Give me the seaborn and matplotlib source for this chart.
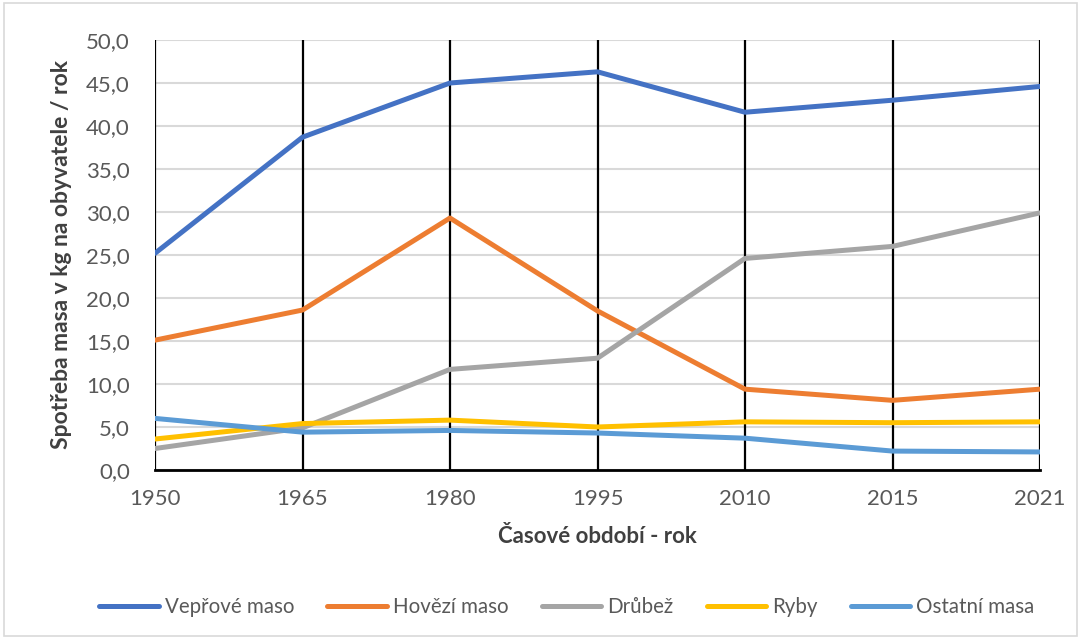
import numpy as np
import pandas as pd
import seaborn as sns
import matplotlib.pyplot as plt
from matplotlib.ticker import FuncFormatter, MultipleLocator
from matplotlib.patches import Rectangle

# data
roky = ['1950', '1965', '1980', '1995', '2010', '2015', '2021']
veprove = [25.2, 38.7, 45.0, 46.3, 41.6, 43.0, 44.6]
hovezi = [15.1, 18.6, 29.3, 18.5, 9.4, 8.1, 9.4]
drubez = [2.5, 4.9, 11.7, 13.0, 24.6, 26.0, 29.9]
ryby = [3.6, 5.4, 5.8, 5.0, 5.6, 5.5, 5.6]
ostatni = [6.0, 4.4, 4.6, 4.3, 3.7, 2.2, 2.1]

nazvy = ['Vepřové maso', 'Hovězí maso', 'Drůbež', 'Ryby', 'Ostatní masa']
barvy = ['#4472C4', '#ED7D31', '#A5A5A5', '#FFC000', '#5B9BD5']

rows = []
for name, values in zip(nazvy, [veprove, hovezi, drubez, ryby, ostatni]):
    for i, v in enumerate(values):
        rows.append({'pos': i, 'rok': roky[i], 'hodnota': v, 'druh': name})
df = pd.DataFrame(rows)

sns.set_style('white')
plt.rcParams['font.family'] = ['Lato', 'DejaVu Sans']

fig = plt.figure(figsize=(10.81, 6.39), dpi=100)
ax = fig.add_axes([155 / 1081, 1 - 470 / 639, (1040 - 155) / 1081, 430 / 639])

sns.lineplot(data=df, x='pos', y='hodnota', hue='druh', hue_order=nazvy,
             palette=barvy, linewidth=3.6, ax=ax, legend=True, zorder=3)

ax.set_xlim(0, len(roky) - 1)
ax.set_ylim(0, 50)
ax.yaxis.set_major_locator(MultipleLocator(5))
ax.yaxis.set_major_formatter(FuncFormatter(lambda v, p: '{:.1f}'.format(v).replace('.', ',')))
ax.set_xticks(range(len(roky)))
ax.set_xticklabels(roky)
ax.tick_params(axis='both', labelsize=16, colors='#595959', length=0)
ax.tick_params(axis='x', pad=14)
ax.tick_params(axis='y', pad=18)

ax.grid(axis='y', color='#D9D9D9', linewidth=1.5, zorder=0)
for i in range(len(roky)):
    ax.axvline(i, color='black', linewidth=1.6, zorder=1)
for side in ['top', 'right', 'left']:
    ax.spines[side].set_visible(False)
ax.spines['bottom'].set_color('black')
ax.spines['bottom'].set_linewidth(2)

ax.set_xlabel('Časové období - rok', fontsize=16, fontweight='bold',
              color='#404040', labelpad=12)
ax.set_ylabel('Spotřeba masa v kg na obyvatele / rok', fontsize=16.5,
              fontweight='bold', color='#404040', labelpad=10)

handles, labels = ax.get_legend_handles_labels()
ax.legend(handles, labels, loc='center', bbox_to_anchor=(567 / 1081, 1 - 607 / 639),
          bbox_transform=fig.transFigure, ncol=5, frameon=False, fontsize=14.8,
          labelcolor='#595959', handlelength=2.9, handletextpad=0.3, columnspacing=1.6)

fig.patches.append(Rectangle((0.004, 0.004), 0.992, 0.992, transform=fig.transFigure,
                             fill=False, edgecolor='#D9D9D9', linewidth=1.2))

plt.savefig('out.png', dpi=100)
